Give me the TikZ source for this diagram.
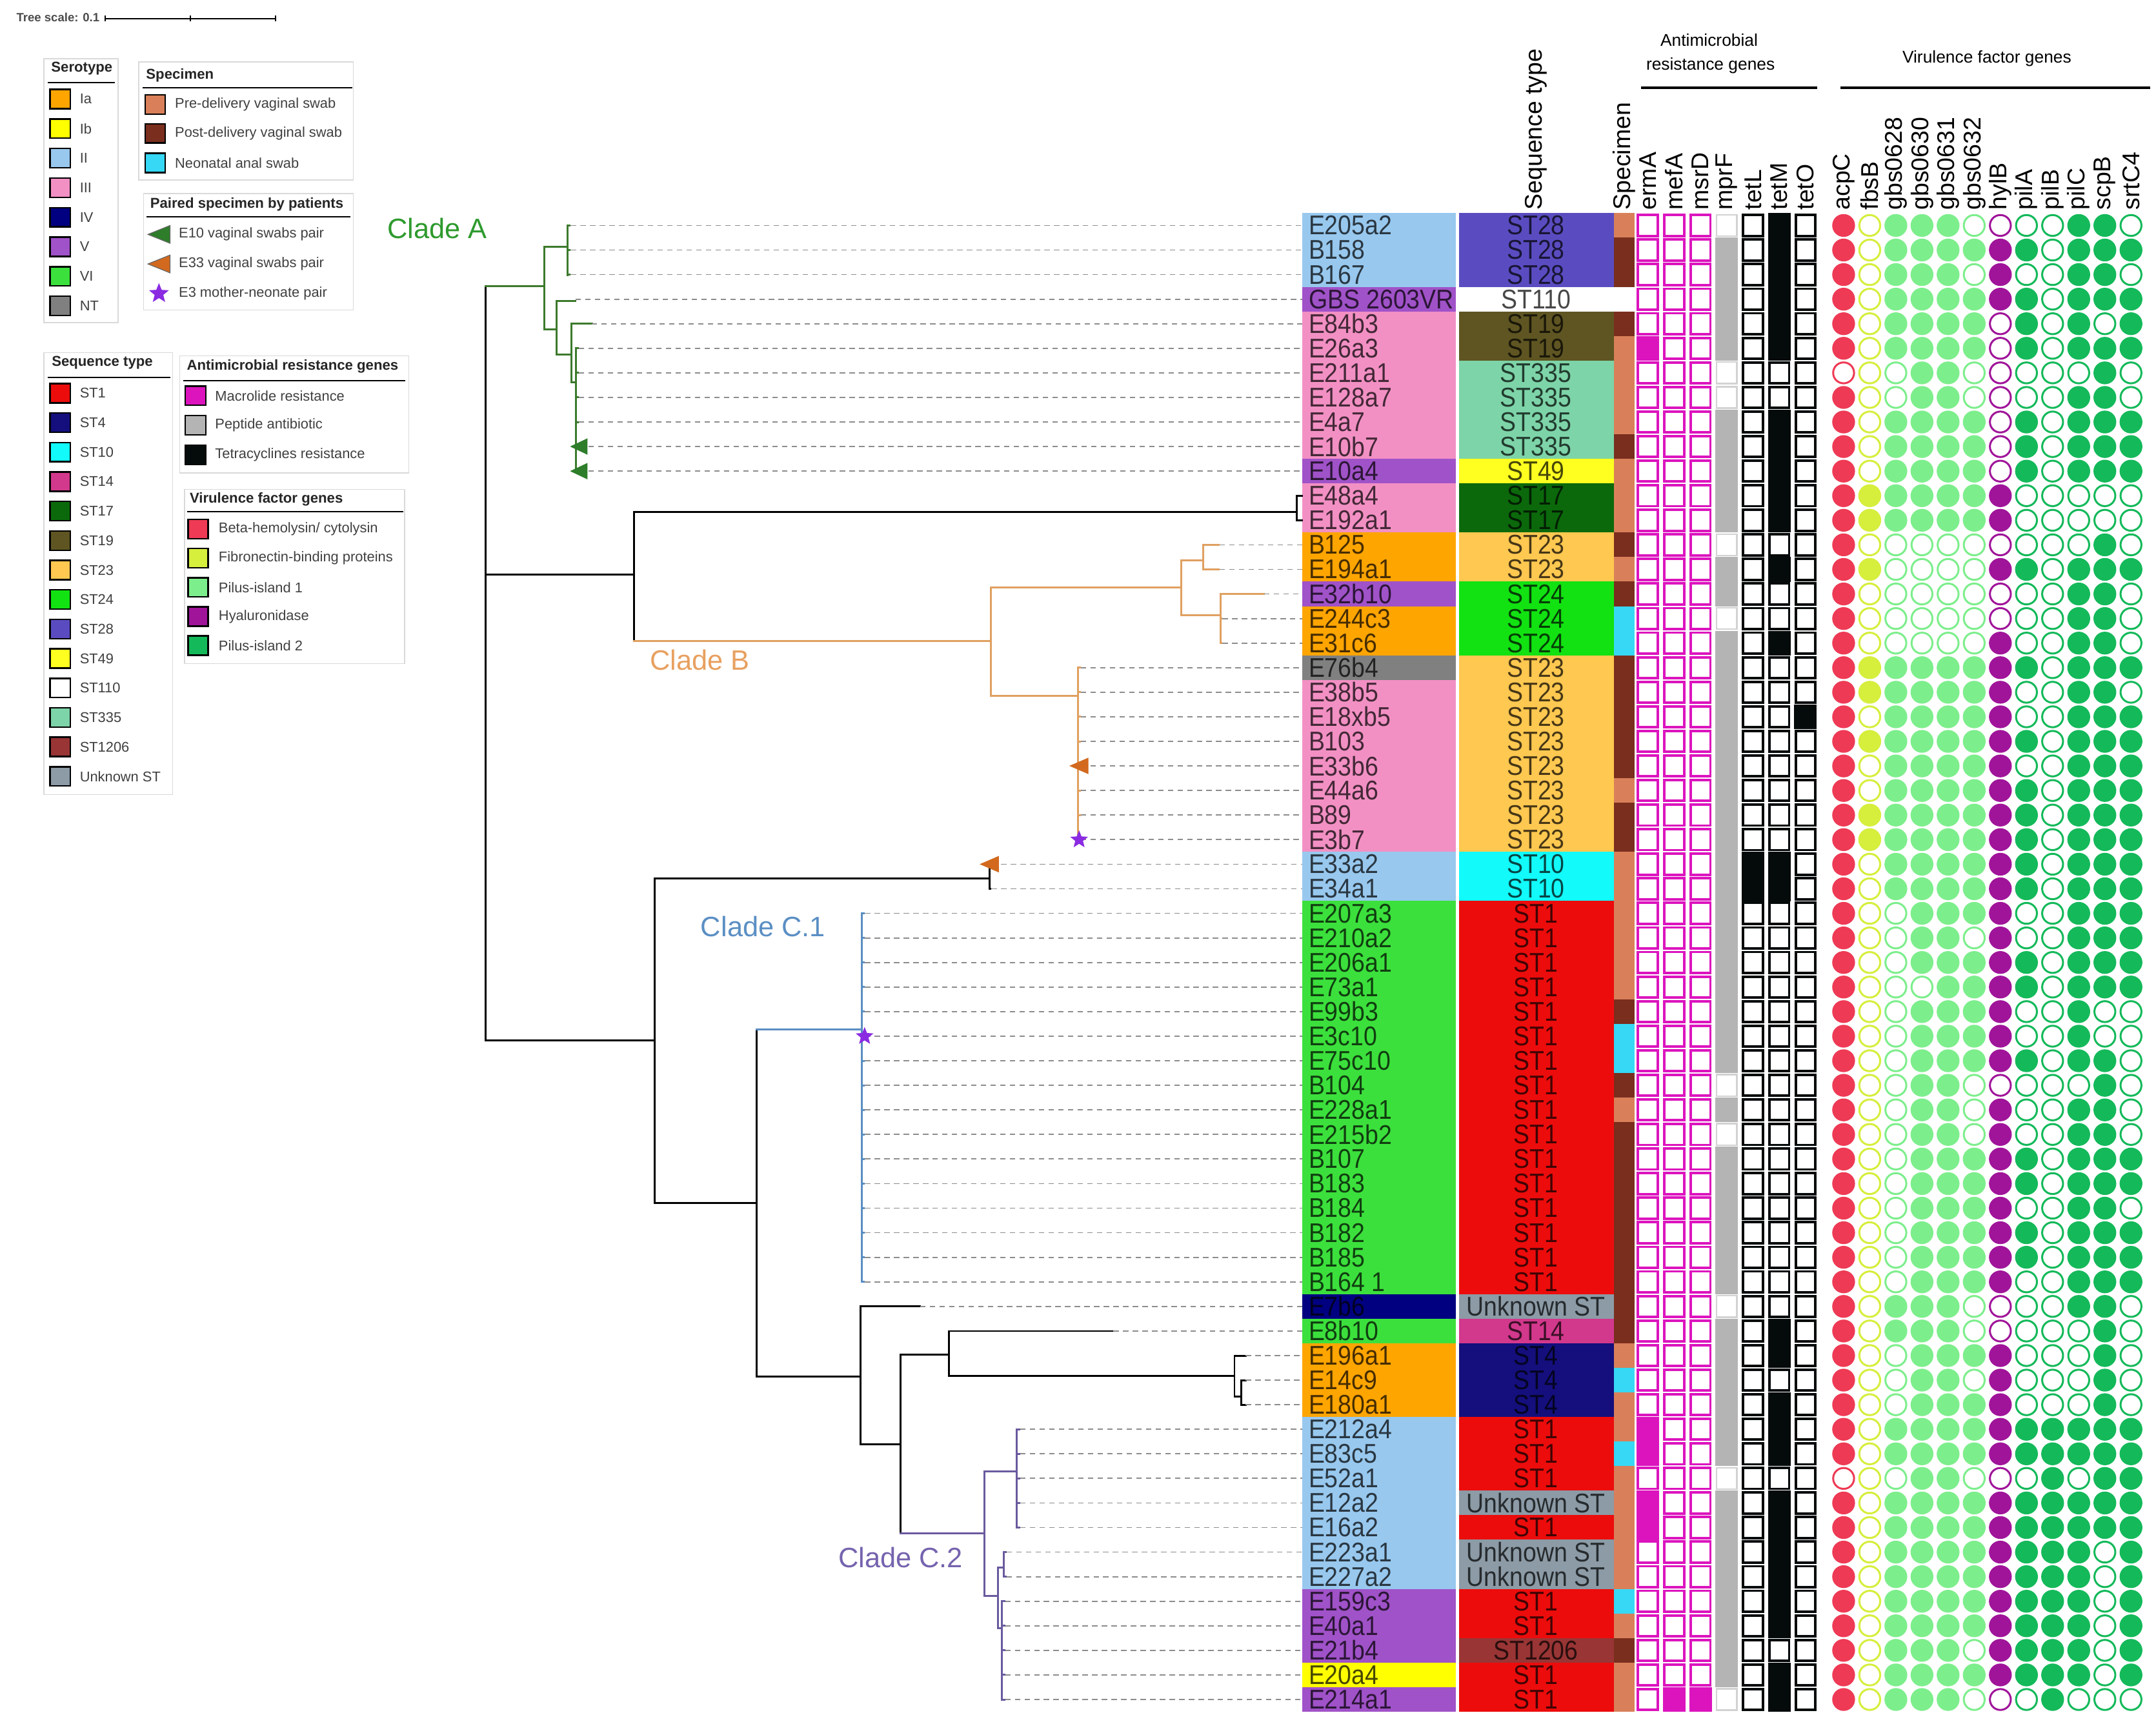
\documentclass[tikz,border=0pt]{standalone}
\usepackage{fontspec}
\usepackage{graphicx}
\setmainfont{Liberation Sans}
\usetikzlibrary{shapes.geometric}
% serotype
\definecolor{serIa}{HTML}{FFA500}\definecolor{serIb}{HTML}{FFFF00}
\definecolor{serII}{HTML}{98C8EE}\definecolor{serIII}{HTML}{F290C4}
\definecolor{serIV}{HTML}{000080}\definecolor{serV}{HTML}{A052C8}
\definecolor{serVI}{HTML}{3CE03C}\definecolor{serNT}{HTML}{808080}
% sequence types
\definecolor{stST1}{HTML}{EC0C0C}\definecolor{stST4}{HTML}{140F7C}
\definecolor{stST10}{HTML}{12FAFA}\definecolor{stST14}{HTML}{D2388C}
\definecolor{stST17}{HTML}{0B690B}\definecolor{stST19}{HTML}{5E5522}
\definecolor{stST23}{HTML}{FFC850}\definecolor{stST24}{HTML}{12E212}
\definecolor{stST28}{HTML}{5A4CC0}\definecolor{stST49}{HTML}{FFFF20}
\definecolor{stST110}{HTML}{FFFFFF}\definecolor{stST335}{HTML}{7DD4A8}
\definecolor{stST1206}{HTML}{993535}\definecolor{stUnk}{HTML}{8C9BA6}
% specimen
\definecolor{spPre}{HTML}{D9805A}\definecolor{spPost}{HTML}{7A2E1E}
\definecolor{spNeo}{HTML}{36D8F5}\definecolor{spNone}{HTML}{FFFFFF}
% genes
\definecolor{amrMag}{HTML}{DC14BE}\definecolor{amrGray}{HTML}{B4B4B4}
\definecolor{amrBlk}{HTML}{050A0A}
\definecolor{vfRed}{HTML}{EE3A55}\definecolor{vfYel}{HTML}{D6EE3C}
\definecolor{vfLt}{HTML}{7DEE8C}\definecolor{vfPur}{HTML}{A0149A}
\definecolor{vfGrn}{HTML}{14B95A}
% tree
\definecolor{cladeA}{HTML}{3C7A2C}\definecolor{cladeB}{HTML}{E0A060}
\definecolor{cladeC1}{HTML}{5A8EC2}\definecolor{cladeC2}{HTML}{6A5A9E}
\definecolor{labA}{HTML}{2E9A2E}\definecolor{labB}{HTML}{E8A060}
\definecolor{labC1}{HTML}{5B8FC4}\definecolor{labC2}{HTML}{7563AE}
\definecolor{triG}{HTML}{2E7D2A}\definecolor{triO}{HTML}{D2691E}
\definecolor{starP}{HTML}{8A2BE2}

\newcommand\tall[1]{\scalebox{1}[1.12]{#1}}
\newcommand\betahem{Beta-hemolysin/ cytolysin}
\newcounter{colc}
\makeatletter
\newcommand\amrrow[2]{\edef\currow{#1}\setcounter{colc}{0}\edef\amr@tmp{#2}\expandafter\amr@loop\amr@tmp\relax}
\def\amr@loop#1{\ifx\relax#1\else\amrcell{#1}\stepcounter{colc}\expandafter\amr@loop\fi}
\newcommand\vfrow[2]{\edef\currow{#1}\setcounter{colc}{0}\edef\vf@tmp{#2}\expandafter\vf@loop\vf@tmp\relax}
\def\vf@loop#1{\ifx\relax#1\else\vfcell{#1}\stepcounter{colc}\expandafter\vf@loop\fi}
\makeatother
\newcommand\amrcell[1]{%
  \pgfmathsetmacro\cx{1198.5+19.1*\arabic{colc}}%
  \pgfmathsetmacro\cy{164+(\currow-1)*17.87}%
  \ifnum\value{colc}<3 \def\cc{amrMag}\else\ifnum\value{colc}=3 \def\cc{amrGray}\else\def\cc{amrBlk}\fi\fi
  \ifnum#1=1\relax
    \fill[\cc] (\cx-8.2,\cy-8.96) rectangle (\cx+8.2,\cy+8.96);
  \else
    \ifnum\value{colc}=3\relax
      \draw[amrGray!60, line width=0.8pt, fill=white] (\cx-7.4,\cy-7.8) rectangle (\cx+7.4,\cy+7.8);
    \else
      \draw[\cc, line width=1.3pt, fill=white] (\cx-7.2,\cy-7.6) rectangle (\cx+7.2,\cy+7.6);
    \fi
  \fi}
\newcommand\vfcell[1]{%
  \pgfmathsetmacro\cx{1340.8+19.0*\arabic{colc}}%
  \pgfmathsetmacro\cy{164+(\currow-1)*17.87}%
  \edef\cc{\ifcase\arabic{colc} vfRed\or vfYel\or vfLt\or vfLt\or vfLt\or vfLt\or vfPur\else vfGrn\fi}%
  \ifnum#1=1\relax
    \fill[\cc] (\cx,\cy) circle (8.3);
  \else
    \draw[\cc, line width=1pt, fill=white] (\cx,\cy) circle (7.6);
  \fi}

\tikzset{
  br/.style={line width=1pt, line cap=rect},
  leaf/.style={draw=black!45, line width=0.6pt, dash pattern=on 2.8pt off 2.2pt},
  lbl/.style={font=\fontsize{12.5}{14}\selectfont, inner sep=0pt, text opacity=0.72},
  hdr/.style={font=\fontsize{12.5}{14}\selectfont, inner sep=0pt, rotate=90, anchor=west},
  legframe/.style={draw=black!15, fill=white, line width=0.5pt},
  legtitle/.style={font=\fontsize{7.4}{8}\selectfont\bfseries, anchor=west, inner sep=0pt, text=black!85},
  legtext/.style={font=\fontsize{7.3}{8}\selectfont, anchor=west, inner sep=0pt, text=black!75},
  legsq/.style={draw=black, line width=0.8pt},
  cladelab/.style={font=\fontsize{14.5}{16}\selectfont, inner sep=0pt},
  pstar/.style={star, star points=5, star point ratio=2.3, fill=starP, inner sep=0pt, minimum size=3.4mm}
}

\begin{document}
\begin{tikzpicture}[x=0.25mm,y=-0.25mm]
\useasboundingbox (0,0) rectangle (1568,1254);

% ---------- tree scale ----------
\node[font=\fontsize{6.2}{7}\selectfont\bfseries, anchor=west, inner sep=0pt, text=black!70] (tscale) at (11.7,12.5) {Tree scale: 0.1};
\draw[line width=0.5pt] (76.5,13.5) -- (200.4,13.5);
\foreach \tx in {76.5,138.5,200.4} \draw[line width=0.5pt] (\tx,11.5) -- (\tx,15.5);

% ---------- legends ----------
\draw[legframe] (32,42.6) rectangle (86,234.6);
\node[legtitle] (tSero) at (37,50) {Serotype};
\draw[line width=0.7pt] (34.6,60) -- (83.6,60);
\foreach \n/\c/\t in {0/serIa/Ia,1/serIb/Ib,2/serII/II,3/serIII/III,4/serIV/IV,5/serV/V,6/serVI/VI,7/serNT/NT}{
  \pgfmathsetmacro\ly{72+\n*21.5}
  \filldraw[legsq, fill=\c] (36.4,\ly-7) rectangle (51.2,\ly+7);
  \node[legtext] (sero\n) at (57.8,\ly) {\t};}

\draw[legframe] (101,45) rectangle (257,131);
\node[legtitle] (tSpec) at (106,55) {Specimen};
\draw[line width=0.7pt] (103.7,64) -- (256.4,64);
\foreach \n/\c/\t/\ly in {0/spPre/Pre-delivery vaginal swab/76,1/spPost/Post-delivery vaginal swab/97,2/spNeo/Neonatal anal swab/118.5}{
  \filldraw[legsq, fill=\c] (105.6,\ly-7) rectangle (120.2,\ly+7);
  \node[legtext] (spec\n) at (127,\ly) {\t};}

\draw[legframe] (104.5,140.7) rectangle (257,225.6);
\node[legtitle] (tPair) at (109,148.6) {Paired specimen by patients};
\draw[line width=0.7pt] (106.6,157.7) -- (254.9,157.7);
\filldraw[fill=triG, draw=black!60, line width=0.4pt] (107.6,170.5) -- (123.7,164) -- (123.7,177) -- cycle;
\filldraw[fill=triO, draw=black!60, line width=0.4pt] (107.6,192) -- (123.7,185.5) -- (123.7,198.5) -- cycle;
\node[pstar, minimum size=3.8mm] (lstar) at (115.6,213.5) {};
\node[legtext] (pair0) at (129.8,170.5) {E10 vaginal swabs pair};
\node[legtext] (pair1) at (129.8,192) {E33 vaginal swabs pair};
\node[legtext] (pair2) at (129.8,213.5) {E3 mother-neonate pair};

\draw[legframe] (32,256.5) rectangle (125.5,578);
\node[legtitle] (tST) at (37.4,264) {Sequence type};
\draw[line width=0.7pt] (34.6,274.6) -- (123.7,274.6);
\foreach \n/\c/\t in {0/stST1/ST1,1/stST4/ST4,2/stST10/ST10,3/stST14/ST14,4/stST17/ST17,5/stST19/ST19,6/stST23/ST23,7/stST24/ST24,8/stST28/ST28,9/stST49/ST49,10/stST110/ST110,11/stST335/ST335,12/stST1206/ST1206,13/stUnk/Unknown ST}{
  \pgfmathsetmacro\ly{286+\n*21.44}
  \filldraw[legsq, fill=\c] (36.4,\ly-7) rectangle (51.2,\ly+7);
  \node[legtext] (stl\n) at (57.8,\ly) {\t};}

\draw[legframe] (130.7,258.8) rectangle (297.3,344);
\node[legtitle] (tAMR) at (135.6,266.3) {Antimicrobial resistance genes};
\draw[line width=0.7pt] (133.5,277) -- (294.7,277);
\foreach \n/\c/\t in {0/amrMag/Macrolide resistance,1/amrGray/Peptide antibiotic,2/amrBlk/Tetracyclines resistance}{
  \pgfmathsetmacro\ly{287.8+\n*21.5}
  \filldraw[legsq, fill=\c] (134.8,\ly-7) rectangle (149.8,\ly+7);
  \node[legtext] (amrl\n) at (156.2,\ly) {\t};}

\draw[legframe] (134.2,356) rectangle (294.2,482.8);
\node[legtitle] (tVF) at (137.7,363.3) {Virulence factor genes};
\draw[line width=0.7pt] (136.2,372.3) -- (293.4,372.3);
\foreach \n/\c/\t in {0/vfRed/\betahem,1/vfYel/Fibronectin-binding proteins,2/vfLt/Pilus-island 1,3/vfPur/Hyaluronidase,4/vfGrn/Pilus-island 2}{
  \pgfmathsetmacro\ly{384.8+\n*21.2}
  \filldraw[legsq, fill=\c] (136.8,\ly-7) rectangle (151.4,\ly+7);
  \node[legtext] (vfl\n) at (158.8,\ly) {\t};}

% ---------- rows: labels, ST, specimen ----------
\foreach \i/\lab/\sc/\stt/\stc/\sp in {
1/E205a2/serII/ST28/stST28/spPre,
2/B158/serII/ST28/stST28/spPost,
3/B167/serII/ST28/stST28/spPost,
4/GBS 2603VR/serV/ST110/stST110/spNone,
5/E84b3/serIII/ST19/stST19/spPost,
6/E26a3/serIII/ST19/stST19/spPre,
7/E211a1/serIII/ST335/stST335/spPre,
8/E128a7/serIII/ST335/stST335/spPre,
9/E4a7/serIII/ST335/stST335/spPre,
10/E10b7/serIII/ST335/stST335/spPost,
11/E10a4/serV/ST49/stST49/spPre,
12/E48a4/serIII/ST17/stST17/spPre,
13/E192a1/serIII/ST17/stST17/spPre,
14/B125/serIa/ST23/stST23/spPost,
15/E194a1/serIa/ST23/stST23/spPre,
16/E32b10/serV/ST24/stST24/spPost,
17/E244c3/serIa/ST24/stST24/spNeo,
18/E31c6/serIa/ST24/stST24/spNeo,
19/E76b4/serNT/ST23/stST23/spPost,
20/E38b5/serIII/ST23/stST23/spPost,
21/E18xb5/serIII/ST23/stST23/spPost,
22/B103/serIII/ST23/stST23/spPost,
23/E33b6/serIII/ST23/stST23/spPost,
24/E44a6/serIII/ST23/stST23/spPre,
25/B89/serIII/ST23/stST23/spPost,
26/E3b7/serIII/ST23/stST23/spPost,
27/E33a2/serII/ST10/stST10/spPre,
28/E34a1/serII/ST10/stST10/spPre,
29/E207a3/serVI/ST1/stST1/spPre,
30/E210a2/serVI/ST1/stST1/spPre,
31/E206a1/serVI/ST1/stST1/spPre,
32/E73a1/serVI/ST1/stST1/spPre,
33/E99b3/serVI/ST1/stST1/spPost,
34/E3c10/serVI/ST1/stST1/spNeo,
35/E75c10/serVI/ST1/stST1/spNeo,
36/B104/serVI/ST1/stST1/spPost,
37/E228a1/serVI/ST1/stST1/spPre,
38/E215b2/serVI/ST1/stST1/spPost,
39/B107/serVI/ST1/stST1/spPost,
40/B183/serVI/ST1/stST1/spPost,
41/B184/serVI/ST1/stST1/spPost,
42/B182/serVI/ST1/stST1/spPost,
43/B185/serVI/ST1/stST1/spPost,
44/B164 1/serVI/ST1/stST1/spPost,
45/E7b6/serIV/Unknown ST/stUnk/spPost,
46/E8b10/serVI/ST14/stST14/spPost,
47/E196a1/serIa/ST4/stST4/spPre,
48/E14c9/serIa/ST4/stST4/spNeo,
49/E180a1/serIa/ST4/stST4/spPre,
50/E212a4/serII/ST1/stST1/spPre,
51/E83c5/serII/ST1/stST1/spNeo,
52/E52a1/serII/ST1/stST1/spPre,
53/E12a2/serII/Unknown ST/stUnk/spPre,
54/E16a2/serII/ST1/stST1/spPre,
55/E223a1/serII/Unknown ST/stUnk/spPre,
56/E227a2/serII/Unknown ST/stUnk/spPre,
57/E159c3/serV/ST1/stST1/spNeo,
58/E40a1/serV/ST1/stST1/spPre,
59/E21b4/serV/ST1206/stST1206/spPost,
60/E20a4/serIb/ST1/stST1/spPre,
61/E214a1/serV/ST1/stST1/spPre}{
  \pgfmathsetmacro\yy{164+(\i-1)*17.87}
  \fill[\sc] (947,\yy-8.96) rectangle (1059,\yy+8.96);
  \fill[\stc] (1061,\yy-8.96) rectangle (1173.6,\yy+8.96);
  \fill[\sp] (1173.6,\yy-8.96) rectangle (1189,\yy+8.96);
  \coordinate (E\i) at (947,\yy);
  \node[lbl, anchor=west] (L\i) at (951.5,\yy) {\tall{\lab}};
  \node[lbl] (S\i) at (1117,\yy) {\tall{\stt}};
}

% ---------- headers ----------
\node[hdr] (hST) at (1117,153) {Sequence type};
\node[hdr] (hSp) at (1181,153) {Specimen};
\foreach \n/\t in {0/ermA,1/mefA,2/msrD,3/mprF,4/tetL,5/tetM,6/tetO}
  \node[hdr] (hA\n) at ({1198.5+\n*19.1},153) {\t};
\foreach \n/\t in {0/acpC,1/fbsB,2/gbs0628,3/gbs0630,4/gbs0631,5/gbs0632,6/hylB,7/pilA,8/pilB,9/pilC,10/scpB,11/srtC4}
  \node[hdr] (hV\n) at ({1340.8+\n*19.0},153) {\t};
\node[font=\fontsize{8.8}{10}\selectfont, inner sep=0pt] (gA1) at (1243,29) {Antimicrobial};
\node[font=\fontsize{8.8}{10}\selectfont, inner sep=0pt] (gA2) at (1244,47.7) {resistance genes};
\node[font=\fontsize{8.8}{10}\selectfont, inner sep=0pt] (gV) at (1445,42.6) {Virulence factor genes};
\draw[line width=1.2pt] (1193.5,63.8) -- (1321.7,63.8);
\draw[line width=1.2pt] (1338.5,63.8) -- (1563.8,63.8);

% ---------- AMR heatmap ----------
\foreach \i/\s in {1/0000010,2/0001010,3/0001010,4/0001010,5/0001010,6/1001010,7/0000000,8/0000000,9/0001010,10/0001010,
11/0001010,12/0001010,13/0001010,14/0000000,15/0001010,16/0001000,17/0000000,18/0001010,19/0001000,20/0001000,
21/0001001,22/0001000,23/0001000,24/0001000,25/0001000,26/0001000,27/0001110,28/0001110,29/0001000,30/0001000,
31/0001000,32/0001000,33/0001000,34/0001000,35/0001000,36/0000000,37/0001000,38/0000000,39/0001000,40/0001000,
41/0001000,42/0001000,43/0001000,44/0001000,45/0000000,46/0001010,47/0001010,48/0001000,49/0001010,50/1001010,
51/1001010,52/0000000,53/1001010,54/1001010,55/0001010,56/0001010,57/0001010,58/0001010,59/0001000,60/0001010,
61/0110010}{\amrrow{\i}{\s}}

% ---------- virulence factor heatmap ----------
\foreach \i/\s in {1/101110000110,2/101111110111,3/101110100110,4/101111110111,5/101111010101,6/101111010111,
7/000110000010,8/100110000110,9/101111010111,10/101111010111,11/101111010111,12/111111100000,13/111111100000,
14/100000000010,15/110000110111,16/100000000110,17/100000000110,18/100000100110,19/111111110111,20/111111100110,
21/101111100111,22/111111110111,23/101111100111,24/101111110111,25/111111110111,26/111111110111,27/101111110111,
28/101111110111,29/100111100111,30/100110100111,31/100111110111,32/100011110111,33/100111100100,34/100111100100,
35/100111110110,36/100110000010,37/100110100110,38/100110100110,39/100111110111,40/100111110111,41/100111100110,
42/100111110111,43/100111110111,44/100111100111,45/101110000110,46/101110000010,47/100111100010,48/100110100010,
49/100111100010,50/101111111111,51/101111111111,52/000110001011,53/101111111111,54/101111111111,55/101111111101,
56/101111111101,57/101111111101,58/101111111101,59/101110111101,60/101111111101,61/101110001000}{\vfrow{\i}{\s}}

% ---------- tree ----------
% backbone (black)
\draw[br] (353,208) -- (353,757);
\draw[br] (353,418) -- (460.9,418);
\draw[br] (943,372.2) -| (460.9,466.1);
\draw[br] (947,360.6) -| (943,378.4) -- (947,378.4);
\draw[br] (353,757) -- (475.9,757);
\draw[br] (719.6,638.9) -| (475.9,875.2) -- (550.2,875.2);
\draw[br] (719.6,628.6) -- (719.6,646.5);
\draw[br] (550.2,748.6) -- (550.2,1001.4) -- (625.6,1001.4);
\draw[br] (669.1,950.3) -| (625.6,1050.7) -- (654.8,1050.7);
\draw[br] (690,985.3) -| (654.8,1115.2);
\draw[br] (809.7,968.2) -| (690,1001) -- (897.8,1001);
\draw[br] (906,986.1) -| (897.8,1015.8) -- (902.6,1015.8);
\draw[br] (906,1003.9) -| (902.6,1021.8) -- (906,1021.8);
% clade A
\draw[br, cladeA] (353,208) -- (395.7,208);
\draw[br, cladeA] (412.7,164) -- (412.7,200);
\draw[br, cladeA] (412.7,179.3) -| (395.7,239.6) -- (404.8,239.6);
\draw[br, cladeA] (418.6,218.9) -| (404.8,258) -- (415.4,258);
\draw[br, cladeA] (430.4,235.5) -| (415.4,278) -- (419,278);
\draw[br, cladeA] (419,253.4) -- (419,342.7);
% clade B
\draw[br, cladeB] (460.9,466.1) -- (720.8,466.1);
\draw[br, cladeB] (859.1,427.2) -| (720.8,506.3) -- (784,506.3);
\draw[br, cladeB] (784,485.7) -- (784,610.8);
\draw[br, cladeB] (875,407.5) -| (859.1,447.7) -- (887.6,447.7);
\draw[br, cladeB] (875,396.3) -- (875,414.2);
\draw[br, cladeB] (919.2,432) -| (887.6,467.8);
% clade C.1
\draw[br, cladeC1] (550.2,748.6) -- (626.8,748.6);
\draw[br, cladeC1] (626.8,664.4) -- (626.8,932.4);
% clade C.2
\draw[br, cladeC2] (654.8,1115.2) -- (716.1,1115.2);
\draw[br, cladeC2] (739.4,1070.4) -| (716.1,1160.8) -- (725.6,1160.8);
\draw[br, cladeC2] (739.4,1039.6) -- (739.4,1111.1);
\draw[br, cladeC2] (729.9,1140.3) -| (725.6,1184.3) -- (728.7,1184.3);
\draw[br, cladeC2] (729.9,1129) -- (729.9,1146.9);
\draw[br, cladeC2] (728.7,1164.7) -- (728.7,1236.2);

% leaves: stub + dashed connector to the label column
\foreach \i/\nx/\tx/\cc in {1/412.7/415/cladeA,2/412.7/415/cladeA,3/412.7/415/cladeA,4/418.6/418.6/cladeA,
5/430.4/430.4/cladeA,6/419/421/cladeA,7/419/421/cladeA,8/419/421/cladeA,9/419/421/cladeA,10/419/421/cladeA,
11/419/421/cladeA,14/875/887/cladeB,15/875/887/cladeB,16/919.2/919.2/cladeB,17/887.6/889/cladeB,18/887.6/889/cladeB,
19/784/786/cladeB,20/784/786/cladeB,21/784/786/cladeB,22/784/786/cladeB,23/784/786/cladeB,24/784/786/cladeB,
25/784/786/cladeB,26/784/786/cladeB,27/719.6/721/black,28/719.6/721/black,
29/626.8/629/cladeC1,30/626.8/629/cladeC1,31/626.8/629/cladeC1,32/626.8/629/cladeC1,33/626.8/629/cladeC1,
34/626.8/629/cladeC1,35/626.8/629/cladeC1,36/626.8/629/cladeC1,37/626.8/629/cladeC1,38/626.8/629/cladeC1,
39/626.8/629/cladeC1,40/626.8/629/cladeC1,41/626.8/629/cladeC1,42/626.8/629/cladeC1,43/626.8/629/cladeC1,
44/626.8/629/cladeC1,45/669.1/669.1/black,46/809.7/809.7/black,47/906/906/black,48/906/906/black,49/906/906/black,
50/739.4/742/cladeC2,51/739.4/742/cladeC2,52/739.4/742/cladeC2,53/739.4/742/cladeC2,54/739.4/742/cladeC2,
55/729.9/732/cladeC2,56/729.9/732/cladeC2,57/728.7/731/cladeC2,58/728.7/731/cladeC2,59/728.7/731/cladeC2,
60/728.7/731/cladeC2,61/728.7/731/cladeC2}{
  \pgfmathsetmacro\yy{164+(\i-1)*17.87}
  \coordinate (T\i) at (\tx,\yy);
  \draw[line width=1pt, \cc] (\nx,\yy) -- (T\i);
  \draw[leaf] (T\i) -- (E\i);
}

% markers
\fill[triG] (414.6,324.8) -- (427.3,318.8) -- (427.3,330.8) -- cycle;
\fill[triG] (414.6,342.7) -- (427.3,336.7) -- (427.3,348.7) -- cycle;
\fill[triO] (777.7,557.1) -- (791.6,551.1) -- (791.6,563.1) -- cycle;
\fill[triO] (712.5,628.6) -- (726.4,622.6) -- (726.4,634.6) -- cycle;
\node[pstar] (star1) at (784.8,610.8) {};
\node[pstar] (star2) at (628.8,753.8) {};

% clade labels
\node[cladelab, text=labA] (cA) at (318,166) {Clade A};
\node[cladelab, text=labB] (cB) at (509,480) {Clade B};
\node[cladelab, text=labC1] (cC1) at (555,674) {Clade C.1};
\node[cladelab, text=labC2] (cC2) at (655,1133) {Clade C.2};
\end{tikzpicture}
\end{document}
